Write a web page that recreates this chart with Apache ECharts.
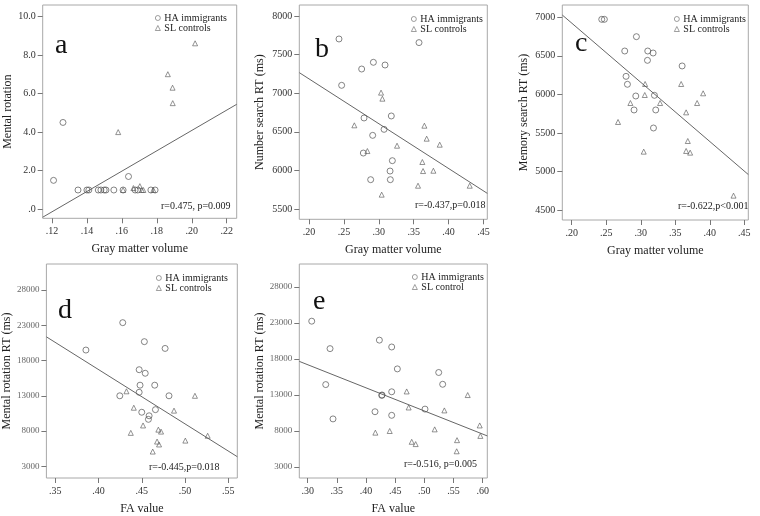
<!DOCTYPE html>
<html><head><meta charset="utf-8">
<script src="https://cdn.jsdelivr.net/npm/echarts@6/dist/echarts.min.js"></script>
<style>html,body{margin:0;padding:0;background:#fff}#c{width:760px;height:516px}</style>
</head><body><div id="c"></div>
<script>
// ---------- DATA ----------
// Panel a: Gray matter volume vs Mental rotation
const aHA = [[0.1209,1.5],[0.1263,4.5],[0.1349,1],[0.1400,1],[0.1411,1],[0.1465,1],[0.1480,1],[0.1499,1],[0.1509,1],[0.1554,1],[0.1607,1],[0.1638,1.7],[0.1676,1],[0.1691,1],[0.1766,1],[0.1790,1]];
const aSL = [[0.1579,4.0],[0.1607,1],[0.1666,1.1],[0.1703,1.2],[0.1714,1],[0.1723,1],[0.1780,1],[0.1863,7.0],[0.1890,6.3],[0.1891,5.5],[0.2019,8.6]];
const aFit = [[0.1147,-0.41],[0.2257,5.44]];
// Panel b: Gray matter volume vs Number search RT
const bHA = [[0.2430,7702],[0.2468,7102],[0.2755,7313],[0.2923,7400],[0.3090,7365],[0.3577,7655],[0.2789,6679],[0.3180,6705],[0.3076,6532],[0.2913,6454],[0.2779,6225],[0.3195,6126],[0.3162,5992],[0.3166,5880],[0.2884,5880]];
const bSL = [[0.3033,7007],[0.3052,6929],[0.2650,6584],[0.3654,6579],[0.3687,6411],[0.3874,6333],[0.3262,6320],[0.2837,6251],[0.3625,6109],[0.3635,5992],[0.3783,5996],[0.3563,5802],[0.4304,5802],[0.3042,5686]];
const bFit = [[0.1861,7266],[0.4556,5703]];
// Panel c: Gray matter volume vs Memory search RT
const cHA = [[0.2435,6974],[0.2473,6974],[0.2937,6749],[0.2768,6563],[0.3101,6563],[0.3179,6537],[0.3097,6442],[0.3599,6369],[0.2787,6234],[0.2807,6131],[0.2928,5979],[0.3198,5988],[0.2903,5798],[0.3217,5798],[0.3184,5564]];
const cSL = [[0.3063,6135],[0.3585,6135],[0.3903,6014],[0.3058,5992],[0.2850,5888],[0.3280,5888],[0.3816,5888],[0.3657,5767],[0.2671,5642],[0.3681,5395],[0.3043,5257],[0.3657,5266],[0.3715,5244],[0.4343,4686]];
const cFit = [[0.1864,7030],[0.4557,4960]];
// Panel d: FA value vs Mental rotation RT
const dHA = [[0.4280,23384],[0.3854,19500],[0.4530,20688],[0.4770,19729],[0.4470,16712],[0.4540,16209],[0.4480,14518],[0.4650,14518],[0.4470,13513],[0.4246,13010],[0.4815,13010],[0.4658,11045],[0.4500,10680],[0.4585,10177],[0.4577,9674]];
const dSL = [[0.4323,13650],[0.4408,11320],[0.4873,10908],[0.5115,13010],[0.4515,8806],[0.4692,8212],[0.4723,7937],[0.4373,7755],[0.5262,7343],[0.5004,6658],[0.4677,6521],[0.4700,6110],[0.4627,5104]];
const dFit = [[0.3397,21373],[0.5605,4373]];
// Panel e: FA value vs Mental rotation RT
const eHA = [[0.3069,23236],[0.3383,19425],[0.3309,14434],[0.3434,9670],[0.4229,20605],[0.4440,19652],[0.4537,16612],[0.4269,12937],[0.4275,12990],[0.4440,13436],[0.4154,10669],[0.4440,10170],[0.5011,11032],[0.5246,16113],[0.5314,14479]];
const eSL = [[0.4697,13482],[0.4731,11259],[0.5343,10850],[0.5743,12983],[0.5949,8763],[0.5960,7311],[0.4160,7765],[0.4406,7992],[0.5177,8219],[0.4783,6494],[0.4851,6177],[0.5560,6721],[0.5554,5178]];
const eFit = [[0.2856,17656],[0.6079,7311]];

const xTicksA = [0.12,0.14,0.16,0.18,0.20,0.22];
const yTicksA = [0,2,4,6,8,10];
const xTicksBC = [0.20,0.25,0.30,0.35,0.40,0.45];
const yTicksB = [5500,6000,6500,7000,7500,8000];
const yTicksC = [4500,5000,5500,6000,6500,7000];
const xTicksD = [0.35,0.40,0.45,0.50,0.55];
const xTicksE = [0.30,0.35,0.40,0.45,0.50,0.55,0.60];
const yTicksDE = [3000,8000,13000,18000,23000,28000];

const stats = ['r=0.475, p=0.009','r=-0.437,p=0.018','r=-0.622,p<0.001','r=-0.445,p=0.018','r=-0.516, p=0.005'];
const letters = ['a','b','c','d','e'];
const xNames = ['Gray matter volume','Gray matter volume','Gray matter volume','FA value','FA value'];
const yNames = ['Mental rotation','Number search RT (ms)','Memory search RT (ms)','Mental rotation RT (ms)','Mental rotation RT (ms)'];
const slNames = ['SL controls','SL controls','SL controls','SL controls','SL control'];

// ---------- LAYOUT ----------
const SERIF = '"Liberation Serif","Times New Roman",serif';
const panels = [
  {grid:{left:42.7,top:5,width:194,height:213.3}, x:[0.1147,0.2257], y:[-0.466,10.585], xt:xTicksA, yt:yTicksA, ha:aHA, sl:aSL, fit:aFit, yfmt:v=>v.toFixed(1).replace(/^0/,''), leg:[155,13], st:[161,207], lt:[55,32], yGap:29},
  {grid:{left:299.3,top:5,width:188,height:214.3}, x:[0.1861,0.4556], y:[5367,8142], xt:xTicksBC, yt:yTicksB, ha:bHA, sl:bSL, fit:bFit, yfmt:v=>String(v), leg:[411,14], st:[415,206], lt:[315,36], yGap:33},
  {grid:{left:562.3,top:5,width:186,height:215}, x:[0.1864,0.4557], y:[4370,7160], xt:xTicksBC, yt:yTicksC, ha:cHA, sl:cSL, fit:cFit, yfmt:v=>String(v), leg:[674,14], st:[678,207], lt:[575,30], yGap:32},
  {grid:{left:44.3,top:264,width:193,height:221}, x:[0.3397,0.5605], y:[1354,31703], xt:xTicksD, yt:yTicksDE, ha:dHA, sl:dSL, fit:dFit, yfmt:v=>String(v), leg:[156,273], st:[149,468], lt:[58,297], yGap:33},
  {grid:{left:299.3,top:264,width:188,height:218.3}, x:[0.2856,0.6079], y:[1470,31171], xt:xTicksE, yt:yTicksDE, ha:eHA, sl:eSL, fit:eFit, yfmt:v=>String(v), leg:[412,272], st:[404,465], lt:[313,288], yGap:33}
];

const grid=[], xAxis=[], yAxis=[], series=[], legend=[], graphic=[];
const xfmt = v => v.toFixed(2).replace(/^0/,'');
panels.forEach((p,i)=>{
  grid.push(Object.assign({show:true,borderColor:'#a8a8a8',borderWidth:1,backgroundColor:'#fff',containLabel:false}, p.grid));
  xAxis.push({type:'value', gridIndex:i, min:p.x[0], max:p.x[1], name:xNames[i], nameLocation:'middle', nameGap:25,
    nameTextStyle:{fontFamily:SERIF,fontSize:12,color:'#222'},
    axisLine:{show:false,onZero:false}, splitLine:{show:false},
    axisTick:{show:true,length:5,lineStyle:{color:'#777'},customValues:p.xt},
    axisLabel:{fontFamily:SERIF,fontSize:10,color:'#333',margin:8,customValues:p.xt,formatter:xfmt}});
  yAxis.push({type:'value', gridIndex:i, min:p.y[0], max:p.y[1], name:yNames[i], nameLocation:'middle', nameGap:p.yGap, nameRotate:90,
    nameTextStyle:{fontFamily:SERIF,fontSize:12,color:'#222'},
    axisLine:{show:false,onZero:false}, splitLine:{show:false},
    axisTick:{show:true,length:5,lineStyle:{color:'#777'},customValues:p.yt},
    axisLabel:{fontFamily:SERIF,fontSize:i>=3?9:10,color:i>=3?'#666':'#333',margin:7,customValues:p.yt,formatter:p.yfmt}});
  series.push({type:'scatter', name:'HA immigrants', xAxisIndex:i, yAxisIndex:i, data:p.ha, symbol:'circle', symbolSize:6,
    itemStyle:{color:'rgba(255,255,255,0)',borderColor:'#555',borderWidth:0.9}, z:3});
  series.push({type:'scatter', name:slNames[i], xAxisIndex:i, yAxisIndex:i, data:p.sl, symbol:'triangle', symbolSize:5,
    itemStyle:{color:'rgba(255,255,255,0)',borderColor:'#555',borderWidth:0.8}, z:3});
  series.push({type:'line', xAxisIndex:i, yAxisIndex:i, data:p.fit, symbol:'none', silent:true,
    lineStyle:{color:'#666',width:1}, z:2});
  legend.push({data:['HA immigrants',slNames[i]], orient:'vertical', left:p.leg[0], top:p.leg[1], itemWidth:5, itemHeight:5, itemGap:0,
    selectedMode:false, itemStyle:{borderWidth:0.7},
    textStyle:{fontFamily:SERIF,fontSize:10,color:'#222',padding:[0,0,0,-1]}, padding:0});
  graphic.push({type:'text', left:p.st[0], top:p.st[1]-6, style:{text:stats[i], font:'10px '+SERIF, fill:'#222'}});
  graphic.push({type:'text', x:p.lt[0], y:p.lt[1], style:{text:letters[i], font:'28px '+SERIF, fill:'#111', textVerticalAlign:'alphabetic'}});
});

const chart = echarts.init(document.getElementById('c'), null, {renderer:'canvas'});
chart.setOption({animation:false, backgroundColor:'#fff', grid, xAxis, yAxis, series, legend, graphic});
</script></body></html>
